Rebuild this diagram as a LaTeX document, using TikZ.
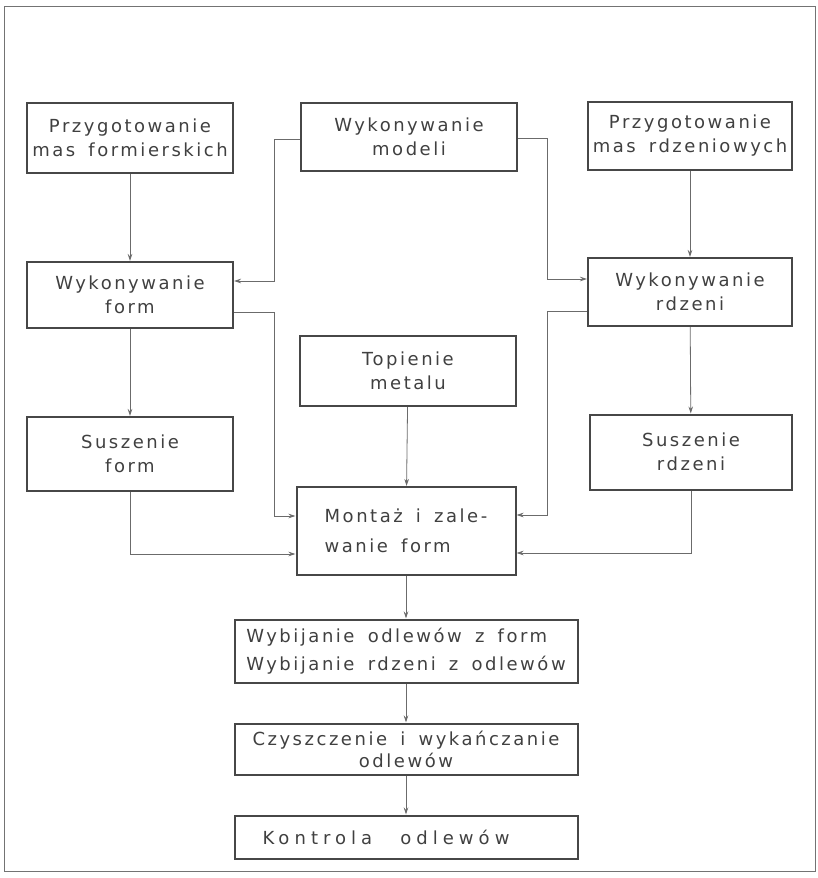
\documentclass[tikz,border=0pt]{standalone}
\usepackage{fontspec}
\usetikzlibrary{arrows.meta}
\newfontfamily\lett{DejaVu Sans}[LetterSpace=14,WordSpace=1.6]
\newfontfamily\lettw{DejaVu Sans}[LetterSpace=28,WordSpace=2.6]
\begin{document}
\begin{tikzpicture}[x=1pt,y=-1pt,
  box/.style={draw=black!72, line width=2pt, inner sep=0pt, align=center,
    font=\lett\fontsize{18}{24}\selectfont, text=black!75},
  arr/.style={draw=black!58, line width=0.8pt, -{Stealth[length=7pt,width=4.5pt]}},
  ln/.style={draw=black!58, line width=0.8pt}]
\useasboundingbox (0,0) rectangle (817,878);
\draw[black!55, line width=0.9pt] (4,6) rectangle (815,871);
% boxes
\node[box, minimum width=206pt, minimum height=70pt] (P1) at (130,138) {Przygotowanie\\mas formierskich};
\node[box, minimum width=216pt, minimum height=68pt] (M) at (409,137) {Wykonywanie\\modeli};
\node[box, minimum width=204pt, minimum height=68pt] (P3) at (690,136) {Przygotowanie\\mas rdzeniowych};
\node[box, minimum width=206pt, minimum height=66pt] (WF) at (130,295) {Wykonywanie\\form};
\node[box, minimum width=204pt, minimum height=68pt] (WR) at (690,292) {Wykonywanie\\rdzeni};
\node[box, minimum width=216pt, minimum height=70pt] (T) at (408,371) {Topienie\\metalu};
\node[box, minimum width=206pt, minimum height=74pt] (SF) at (130,454) {Suszenie\\form};
\node[box, minimum width=202pt, minimum height=75pt] (SR) at (691,452) {Suszenie\\rdzeni};
\node[box, minimum width=219pt, minimum height=88pt, align=left,
  font=\lett\fontsize{18}{30}\selectfont] (Mo) at (406,531) {Montaż i zale-\\wanie form};
\node[box, minimum width=343pt, minimum height=63pt, align=left,
  font=\lett\fontsize{18}{28}\selectfont] (Wb) at (406,651) {Wybijanie odlewów z form\\Wybijanie rdzeni z odlewów};
\node[box, minimum width=343pt, minimum height=51pt,
  font=\lett\fontsize{18}{22}\selectfont] (Cz) at (406,749) {Czyszczenie i wykańczanie\\odlewów};
\node[box, minimum width=343pt, minimum height=43pt,
  font=\lettw\fontsize{18}{24}\selectfont] (K) at (406,837) {Kontrola odlewów\hspace*{40pt}};
% helper coordinates
\coordinate (lx) at (274,0);
\coordinate (rx) at (547,0);
\coordinate (wf-in) at ([yshift=14pt]WF.east);
\coordinate (wf-out) at ([yshift=-17pt]WF.east);
\coordinate (wr-in) at ([yshift=13pt]WR.west);
\coordinate (wr-out) at ([yshift=-19pt]WR.west);
\coordinate (mo-l1) at ([yshift=15pt]Mo.west);
\coordinate (mo-l2) at ([yshift=-23pt]Mo.west);
\coordinate (mo-r1) at ([yshift=16pt]Mo.east);
\coordinate (mo-r2) at ([yshift=-22pt]Mo.east);
% vertical chains
\draw[arr] (P1) -- (WF);
\draw[arr] (WF) -- (SF);
\draw[arr] (P3) -- (WR);
\draw[arr] (WR) -- (SR);
\draw[arr] (T) -- (Mo);
\draw[arr] (Mo) -- (Wb);
\draw[arr] (Wb) -- (Cz);
\draw[arr] (Cz) -- (K);
% modeli to form / rdzeni
\draw[arr] ([yshift=-2pt]M.west) -| (lx |- wf-in) -- (wf-in);
\draw[arr] ([yshift=-1pt]M.east) -| (rx |- wr-in) -- (wr-in);
% form / rdzeni to montaz
\draw[arr] (wf-out) -| (lx |- mo-l1) -- (mo-l1);
\draw[arr] (wr-out) -| (rx |- mo-r1) -- (mo-r1);
% suszenie to montaz
\draw[arr] (SF.south) |- (mo-l2);
\draw[arr] (SR.south) |- (mo-r2);
\end{tikzpicture}
\end{document}
